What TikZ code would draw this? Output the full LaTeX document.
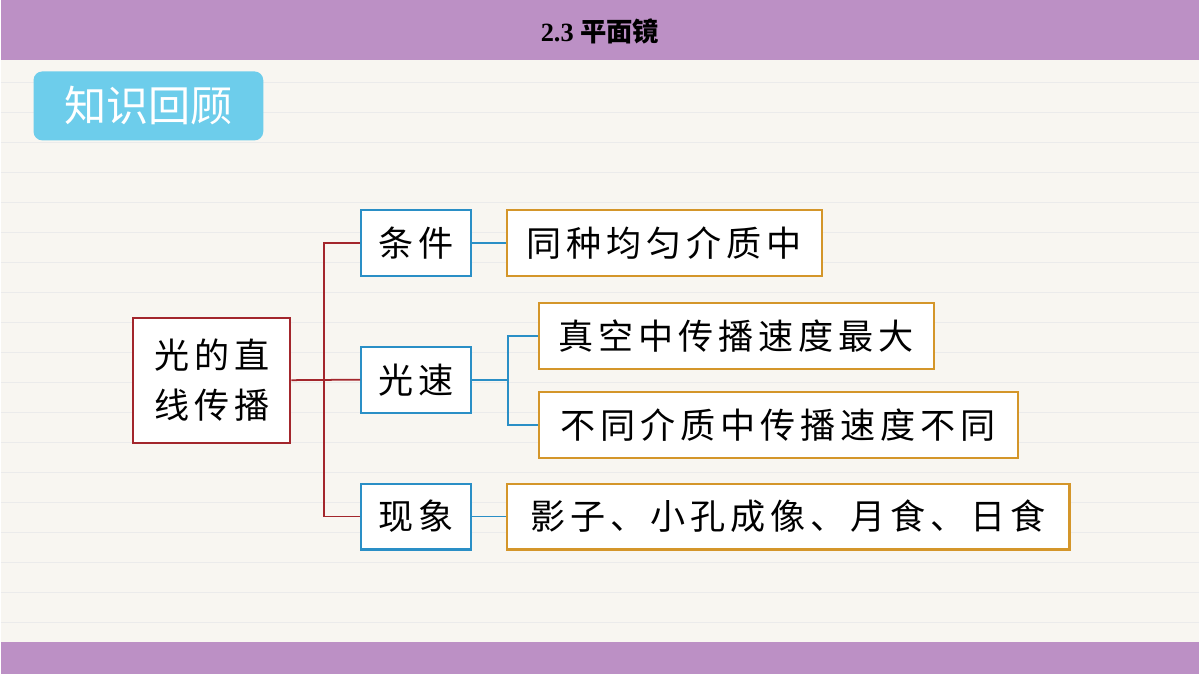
\documentclass[tikz,border=0pt]{standalone}
\usepackage{fontspec}
\setmainfont{Liberation Serif}
\newfontfamily\cjk{Noto Sans CJK SC}
\newfontfamily\cjkwide[LetterSpace=14]{Noto Sans CJK SC}
\definecolor{barpurple}{HTML}{BC90C5}
\definecolor{paper}{HTML}{F8F6F1}
\definecolor{badgeblue}{HTML}{6DCDEB}
\definecolor{rootred}{HTML}{A3262C}
\definecolor{midblue}{HTML}{2A8FC6}
\definecolor{leaforange}{HTML}{D4962A}
\tikzset{
  box/.style={draw, line width=1.2pt, fill=white, inner sep=0pt, font=\cjkwide\fontsize{20}{28}\selectfont},
  rootbox/.style={box, draw=rootred, minimum width=3.14cm, minimum height=2.5cm, align=center},
  midbox/.style={box, draw=midblue, minimum width=2.2cm, minimum height=1.32cm},
  leafbox/.style={box, draw=leaforange, minimum height=1.32cm, inner xsep=0.3cm},
}
\begin{document}
\begin{tikzpicture}[x=0.02cm, y=-0.02cm]
    % Hintergrund
    \fill[paper] (0,0) rectangle (1200,675);
    \foreach \y in {83,113,...,623}
    	\draw[black!8, line width=0.6pt] (0,\y) -- (1200,\y);
    \fill[barpurple] (0,0) rectangle (1200,60);
    \fill[barpurple] (0,643) rectangle (1200,675);
    \node (title) at (600,31) {\bfseries\fontsize{15}{18}\selectfont 2.3 {\cjk 平面镜}};
    % Badge
    \node[fill=badgeblue, rounded corners=5pt, minimum width=4.6cm, minimum height=1.38cm,
      text=white, font=\cjk\fontsize{24}{28}\selectfont] (badge) at (148,106) {知识回顾};
    % Knoten
    \node[rootbox] (root) at (211.5,380.5) {光的直\\线传播};
    \node[midbox] (cond) at (416,243) {条件};
    \node[midbox] (speed) at (416,380) {光速};
    \node[midbox] (phen) at (416,517) {现象};
    \node[leafbox, minimum width=6.3cm] (medium) at (664.5,243) {同种均匀介质中};
    \node[leafbox, minimum width=7.9cm] (vacuum) at (736.5,336) {真空中传播速度最大};
    \node[leafbox, minimum width=9.58cm] (differ) at (778.5,425) {不同介质中传播速度不同};
    \node[leafbox, minimum width=11.26cm] (shadow) at (788.5,517) {影子、小孔成像、月食、日食};
    % Verbindungen
    \draw[rootred, line width=1pt] (root.east) -- (speed.west);
    \draw[rootred, line width=1pt] (cond.west) -- ++(-36,0) |- (phen.west);
    \draw[midblue, line width=1pt] (cond.east) -- (medium.west);
    \draw[midblue, line width=1pt] (phen.east) -- (shadow.west);
    \draw[midblue, line width=1pt] (speed.east) -- ++(36,0) coordinate (fork);
    \draw[midblue, line width=1pt] (vacuum.west) -| (fork) |- (differ.west);
\end{tikzpicture}
\end{document}
